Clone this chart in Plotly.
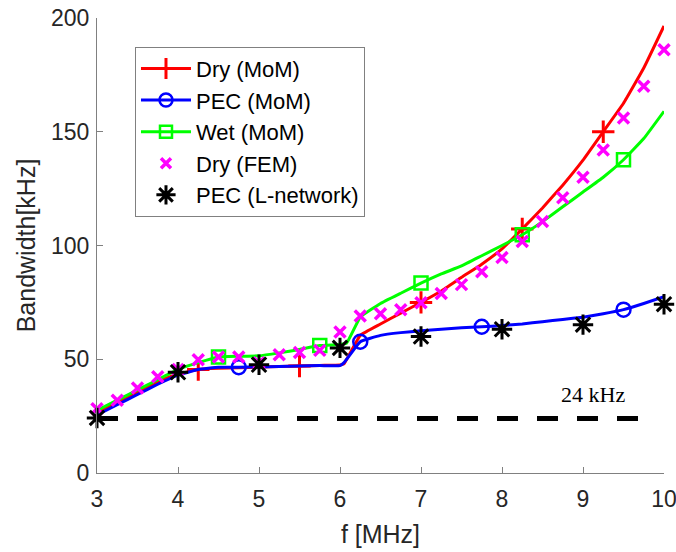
import plotly.graph_objects as go

# ---------------- data ----------------
f_grid = [3.0, 3.25, 3.5, 3.75, 4.0, 4.25, 4.5, 4.75, 5.0, 5.25, 5.5, 5.75, 6.0,
          6.25, 6.5, 6.75, 7.0, 7.25, 7.5, 7.75, 8.0, 8.25, 8.5, 8.75, 9.0, 9.25,
          9.5, 9.75, 10.0]

dry_mom_f = [3.0, 3.25, 3.5, 3.75, 4.0, 4.25, 4.5, 4.75, 5.0, 5.25, 5.5, 5.75, 6.0,
             6.05, 6.25, 6.5, 6.75, 7.0, 7.25, 7.5, 7.75, 8.0, 8.25, 8.5, 8.75, 9.0,
             9.25, 9.5, 9.75, 10.0]
dry_mom_bw = [26.5, 31.0, 35.5, 40.0, 43.5, 45.5, 46.0, 46.3, 46.5, 46.8, 47.0, 47.3, 47.5,
              48.0, 60.5, 65.5, 70.3, 75.0, 80.0, 86.0, 91.8, 98.5, 107.3, 116.5, 126.5, 137.5,
              150.0, 162.5, 178.0, 196.5]
dry_mom_mark_f = [4.25, 5.5, 7.0, 8.25, 9.25]
dry_mom_mark_bw = [45.5, 47.0, 75.0, 107.3, 150.0]

pec_mom_f = [3.0, 3.25, 3.5, 3.75, 4.0, 4.25, 4.5, 4.75, 5.0, 5.25, 5.5, 5.75, 6.0,
             6.05, 6.25, 6.5, 6.75, 7.0, 7.25, 7.5, 7.75, 8.0, 8.25, 8.5, 8.75, 9.0,
             9.25, 9.5, 9.75, 10.0]
pec_mom_bw = [25.5, 30.0, 34.5, 39.0, 43.0, 45.5, 46.5, 46.5, 46.6, 46.8, 47.0, 47.2, 47.2,
              48.5, 57.7, 60.5, 61.7, 62.5, 63.2, 63.8, 64.3, 64.8, 65.5, 66.5, 67.5, 68.5,
              70.0, 71.8, 74.5, 77.5]
pec_mom_mark_f = [4.75, 6.25, 7.75, 9.5]
pec_mom_mark_bw = [46.5, 57.7, 64.3, 71.8]

wet_mom_f = [3.0, 3.25, 3.5, 3.75, 4.0, 4.25, 4.5, 4.75, 5.0, 5.25, 5.5, 5.75, 6.0,
             6.08, 6.25, 6.5, 6.75, 7.0, 7.25, 7.5, 7.75, 8.0, 8.25, 8.5, 8.75, 9.0,
             9.25, 9.5, 9.75, 10.0]
wet_mom_bw = [27.5, 32.0, 36.5, 41.0, 45.5, 48.5, 51.0, 51.3, 51.5, 52.8, 54.3, 56.0, 56.5,
              57.0, 68.5, 74.5, 79.0, 83.5, 87.5, 91.0, 95.5, 100.0, 104.7, 110.5, 117.0, 123.5,
              130.0, 137.7, 147.0, 159.0]
wet_mom_mark_f = [4.5, 5.75, 7.0, 8.25, 9.5]
wet_mom_mark_bw = [51.0, 56.0, 83.5, 104.7, 137.7]

dry_fem_bw = [28.2, 32.0, 37.4, 42.3, 45.5, 49.8, 51.0, 51.0, 48.5, 52.0, 53.0, 53.9, 62.0,
              69.0, 70.0, 71.8, 74.8, 78.9, 82.8, 88.5, 94.7, 101.8, 110.6, 121.0, 130.0,
              142.0, 156.0, 170.0, 186.0]

lnet_f = [3, 4, 5, 6, 7, 8, 9, 10]
lnet_bw = [24.2, 44.3, 47.6, 55.0, 60.0, 63.2, 65.2, 74.2]

limit_f = [3.0, 9.78]
limit_bw = [24.0, 24.0]
limit_label = "24 kHz"

x_ticks = [3, 4, 5, 6, 7, 8, 9, 10]
y_ticks = [0, 50, 100, 150, 200]

# ---------------- styles ----------------
RED, BLUE, GREEN, MAG = "#FF0000", "#0000FF", "#00FF00", "#FF00FF"
LW = 3

fig = go.Figure()

# dashed 24 kHz limit
fig.add_trace(go.Scatter(x=limit_f, y=limit_bw, mode="lines", showlegend=False,
                         line=dict(color="black", width=5, dash="21px,19px"),
                         hoverinfo="skip"))

def add_series(xs, ys, mx, my, color, symbol, msize, mlw):
    fig.add_trace(go.Scatter(x=xs, y=ys, mode="lines", showlegend=False,
                             line=dict(color=color, width=LW, shape="spline", smoothing=0.3)))
    fig.add_trace(go.Scatter(x=mx, y=my, mode="markers", showlegend=False, cliponaxis=False,
                             marker=dict(symbol=symbol, size=msize, color=color,
                                         line=dict(color=color, width=mlw))))

add_series(dry_mom_f, dry_mom_bw, dry_mom_mark_f, dry_mom_mark_bw, RED, "cross-thin", 16, 3)
add_series(pec_mom_f, pec_mom_bw, pec_mom_mark_f, pec_mom_mark_bw, BLUE, "circle-open", 14, 2.5)
add_series(wet_mom_f, wet_mom_bw, wet_mom_mark_f, wet_mom_mark_bw, GREEN, "square-open", 13, 2.5)

fig.add_trace(go.Scatter(x=f_grid, y=dry_fem_bw, mode="markers", showlegend=False,
                         cliponaxis=False,
                         marker=dict(symbol="x-thin", size=11, color=MAG,
                                     line=dict(color=MAG, width=3.5))))
fig.add_trace(go.Scatter(x=lnet_f, y=lnet_bw, mode="markers", showlegend=False,
                         cliponaxis=False,
                         marker=dict(symbol="asterisk", size=17, color="black",
                                     line=dict(color="black", width=3))))

# legend entries
legend_specs = [
    ("Dry (MoM)", "lines+markers", RED, "cross-thin", 15, 3),
    ("PEC (MoM)", "lines+markers", BLUE, "circle-open", 13, 2.5),
    ("Wet (MoM)", "lines+markers", GREEN, "square-open", 12, 2.5),
    ("Dry (FEM)", "markers", MAG, "x-thin", 10, 3.5),
    ("PEC (L-network)", "markers", "black", "asterisk", 16, 3),
]
for name, mode, color, sym, ms, mlw in legend_specs:
    fig.add_trace(go.Scatter(x=[None], y=[None], mode=mode, name=name,
                             line=dict(color=color, width=LW),
                             marker=dict(symbol=sym, size=ms, color=color,
                                         line=dict(color=color, width=mlw))))

fig.add_annotation(x=9.12, y=34.5, text=limit_label, showarrow=False,
                   font=dict(family="Liberation Serif, Times New Roman, serif",
                             size=22, color="black"))

FONT = "Liberation Sans, Arial, sans-serif"
axis_common = dict(showline=True, linecolor="#808080", linewidth=1,
                   ticks="inside", ticklen=6, tickcolor="#808080", tickwidth=1,
                   showgrid=False, zeroline=False, mirror=False, automargin=False,
                   ticklabeloverflow="allow",
                   tickfont=dict(family=FONT, size=23, color="#262626"))

fig.update_layout(
    width=676, height=552,
    margin=dict(l=97, r=12, t=18, b=79),
    paper_bgcolor="white", plot_bgcolor="white",
    font=dict(family=FONT, color="#262626"),
    xaxis=dict(range=[3, 10], tickvals=x_ticks, ticklabelstandoff=5, **axis_common,
               title=dict(text="f [MHz]", font=dict(family=FONT, size=25, color="#262626"),
                          standoff=14)),
    yaxis=dict(range=[0, 200], tickvals=y_ticks, ticklabelstandoff=2, **axis_common,
               title=dict(text="Bandwidth[kHz]", font=dict(family=FONT, size=25, color="#262626"),
                          standoff=8)),
    legend=dict(x=0.067, y=0.937, xanchor="left", yanchor="top",
                bgcolor="white", bordercolor="#808080", borderwidth=1,
                font=dict(family=FONT, size=22, color="black"),
                itemwidth=50, traceorder="normal", tracegroupgap=0),
    showlegend=True,
)

fig.write_html("out.html")
